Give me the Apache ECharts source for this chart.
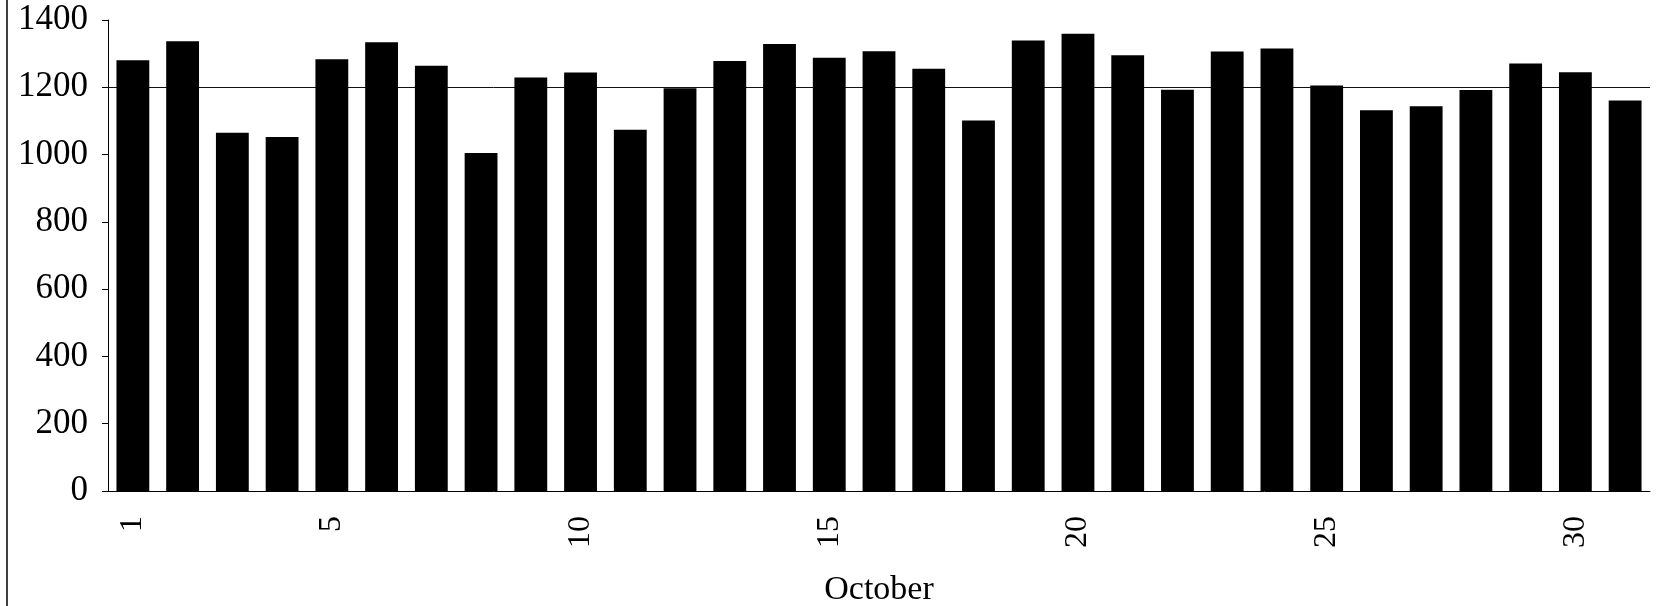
<!DOCTYPE html>
<html>
<head>
<meta charset="utf-8">
<script src="https://cdn.jsdelivr.net/npm/echarts@6/dist/echarts.min.js"></script>
<style>html,body{margin:0;padding:0;background:#fff;}#c{width:1661px;height:606px;}</style>
</head>
<body>
<div id="c"></div>
<script>
const days = ['1','2','3','4','5','6','7','8','9','10','11','12','13','14','15','16','17','18','19','20','21','22','23','24','25','26','27','28','29','30','31'];
const values = [1280,1337,1065,1052,1283,1334,1264,1005,1229,1244,1074,1197,1278,1329,1288,1307,1255,1101,1339,1359,1295,1193,1306,1315,1205,1132,1144,1192,1271,1245,1161];
const yTicks = [0,200,400,600,800,1000,1200,1400];
const refLine = 1200;
const axisName = 'October';

const chart = echarts.init(document.getElementById('c'), null, {renderer:'canvas'});
const font = 'Liberation Serif';
chart.setOption({
  backgroundColor: '#fff',
  animation: false,
  graphic: [{
    type: 'line', shape: {x1: 7, y1: 0, x2: 7, y2: 606},
    style: {stroke: '#000', lineWidth: 1.5}
  }],
  grid: {left: 108, right: 11, top: 20, bottom: 115, containLabel: false, outerBoundsMode: 'none'},
  xAxis: {
    type: 'category',
    data: days,
    name: axisName,
    nameLocation: 'middle',
    nameGap: 82,
    nameTextStyle: {fontFamily: font, fontSize: 34, color: '#000'},
    axisLine: {show: true, lineStyle: {color: '#000', width: 1}},
    axisTick: {show: false},
    axisLabel: {
      rotate: 90,
      margin: 25,
      fontFamily: font,
      fontSize: 32,
      color: '#000',
      interval: function (i) { return i === 0 || (i + 1) % 5 === 0; }
    },
    splitLine: {show: false}
  },
  yAxis: {
    type: 'value',
    min: yTicks[0],
    max: yTicks[yTicks.length - 1],
    interval: 200,
    axisLine: {show: true, lineStyle: {color: '#000', width: 1}},
    axisTick: {show: true, length: 6, lineStyle: {color: '#000'}},
    axisLabel: {
      fontFamily: font, fontSize: 35, color: '#000', margin: 20,
      formatter: function (v) { return String(v); }
    },
    splitLine: {show: false}
  },
  series: [{
    type: 'bar',
    data: values,
    barCategoryGap: '34%',
    z: 3,
    itemStyle: {color: '#000'},
    markLine: {
      z: 1,
      silent: true,
      symbol: ['none', 'none'],
      label: {show: false},
      lineStyle: {color: '#111', width: 1, type: 'solid'},
      data: [{yAxis: refLine}]
    }
  }]
});
</script>
</body>
</html>
